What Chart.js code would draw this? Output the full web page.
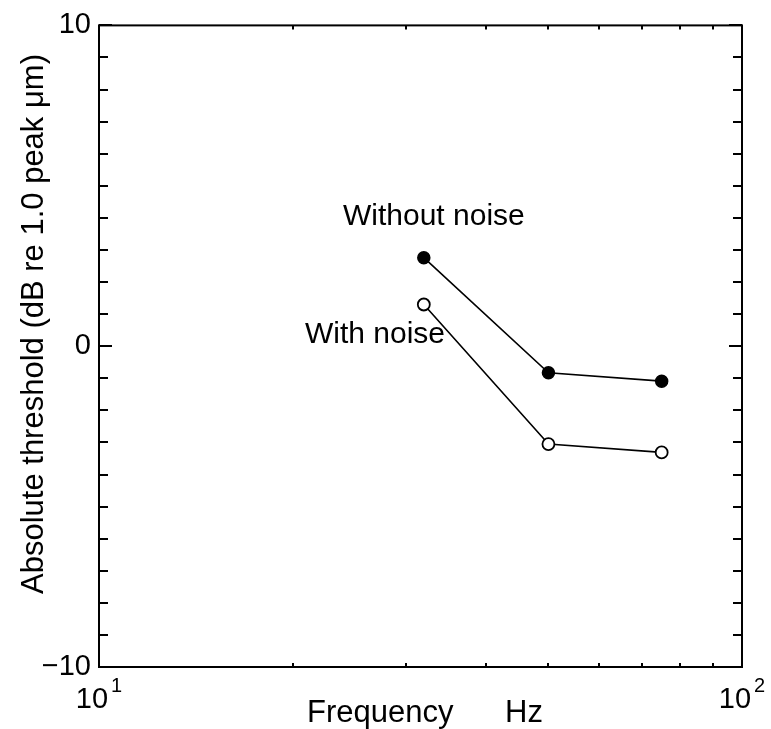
<!DOCTYPE html>
<html>
<head>
<meta charset="utf-8">
<script src="https://cdn.jsdelivr.net/npm/chart.js@4/dist/chart.umd.min.js"></script>
<style>
  html, body { margin: 0; padding: 0; background: #fff; }
  #wrap { width: 771px; height: 729px; }
</style>
</head>
<body>
<div id="wrap"><canvas id="c" width="771" height="729"></canvas></div>
<script>
const fontName = '"Liberation Sans", Arial, sans-serif'

// data
const freqs = [32, 50, 75]
const withoutNoise = [2.76, -0.83, -1.09]
const withNoise = [1.30, -3.05, -3.31]

// axes
const yTicks = [-10, -9, -8, -7, -6, -5, -4, -3, -2, -1, 0, 1, 2, 3, 4, 5, 6, 7, 8, 9, 10]
const yMajor = [-10, 0, 10]
const yLabels = { '-10': '\u221210', '0': '0', '10': '10' }
const xMinor = [20, 30, 40, 50, 60, 70, 80, 90]
const xMajor = [10, 100]
const xExponents = ['1', '2']

const toPoints = (xs, ys) => xs.map((f, i) => ({ x: f, y: ys[i] }))

const frame = {
    id: 'frame',
    afterDraw(chart) {
        const { ctx, chartArea: a, scales: { x, y } } = chart
        ctx.save()
        ctx.strokeStyle = '#000'
        ctx.lineWidth = 2
        ctx.strokeRect(a.left, a.top, a.right - a.left, a.bottom - a.top)

        ctx.beginPath()
        yTicks.forEach(v => {
            const py = Math.round(y.getPixelForValue(v))
            const len = yMajor.includes(v) ? 13 : 9
            ctx.moveTo(a.left, py); ctx.lineTo(a.left + len, py)
            ctx.moveTo(a.right - len, py); ctx.lineTo(a.right, py)
        })
        xMinor.forEach(v => {
            const px = Math.round(x.getPixelForValue(v))
            ctx.moveTo(px, a.bottom); ctx.lineTo(px, a.bottom - 4)
            ctx.moveTo(px, a.top); ctx.lineTo(px, a.top + 4)
        })
        ctx.stroke()

        // x tick labels with superscripts
        ctx.fillStyle = '#000'
        ctx.textBaseline = 'alphabetic'
        ctx.textAlign = 'left'
        xMajor.forEach((v, i) => {
            const px = x.getPixelForValue(v)
            ctx.font = '29px ' + fontName
            const wb = ctx.measureText('10').width
            ctx.font = '20px ' + fontName
            const we = ctx.measureText(xExponents[i]).width
            const start = px - (wb + we + 3) / 2
            ctx.font = '29px ' + fontName
            ctx.fillText('10', start, 708)
            ctx.font = '20px ' + fontName
            ctx.fillText(xExponents[i], start + wb + 3, 692)
        })

        // axis titles
        ctx.font = '31px ' + fontName
        ctx.fillText('Frequency', 307, 722)
        ctx.fillText('Hz', 505, 722)

        ctx.save()
        ctx.translate(43, 324)
        ctx.rotate(-Math.PI / 2)
        ctx.textAlign = 'center'
        ctx.fillText('Absolute threshold (dB re 1.0 peak \u03bcm)', 0, 0)
        ctx.restore()

        // series labels
        ctx.font = '30px ' + fontName
        ctx.fillText('Without noise', 343, 225)
        ctx.fillText('With noise', 305, 343)
        ctx.restore()
    }
}

new Chart(document.getElementById('c'), {
    type: 'scatter',
    data: {
        datasets: [
            {
                label: 'Without noise',
                data: toPoints(freqs, withoutNoise),
                showLine: true,
                borderColor: '#000',
                borderWidth: 1.6,
                pointRadius: 6,
                pointBackgroundColor: '#000',
                pointBorderColor: '#000',
                pointBorderWidth: 1.5
            },
            {
                label: 'With noise',
                data: toPoints(freqs, withNoise),
                showLine: true,
                borderColor: '#000',
                borderWidth: 1.6,
                pointRadius: 6,
                pointBackgroundColor: '#fff',
                pointBorderColor: '#000',
                pointBorderWidth: 1.8
            }
        ]
    },
    options: {
        responsive: false,
        animation: false,
        layout: { padding: { top: 23, right: 29, left: 0, bottom: 0 } },
        plugins: { legend: { display: false }, tooltip: { enabled: false } },
        scales: {
            x: {
                type: 'logarithmic',
                min: 10,
                max: 100,
                grid: { display: false, drawTicks: false },
                border: { display: false },
                ticks: { display: false },
                afterFit: s => { s.height = 62 }
            },
            y: {
                min: -10,
                max: 10,
                grid: { display: false, drawTicks: false },
                border: { display: false },
                afterBuildTicks: s => { s.ticks = yTicks.map(v => ({ value: v })) },
                ticks: {
                    autoSkip: false,
                    padding: 8,
                    color: '#000',
                    font: { family: fontName, size: 29 },
                    callback: v => yLabels[String(v)] || ''
                },
                afterFit: s => { s.width = 99 }
            }
        }
    },
    plugins: [frame]
})
</script>
</body>
</html>
